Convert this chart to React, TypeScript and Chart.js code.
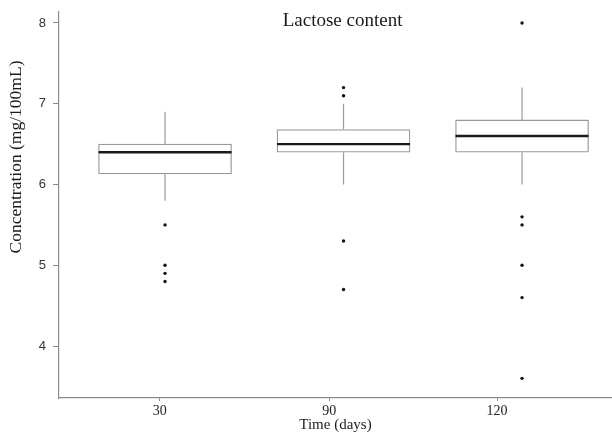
import React, { useEffect, useRef } from "react";
import { Chart, registerables } from "chart.js";

Chart.register(...registerables);

const CATEGORIES = ["30", "90", "120"];
const TICK_POSITIONS = [-0.03, 0.92, 1.86];
const Q1 = [6.13, 6.4, 6.4];
const MEDIAN = [6.4, 6.5, 6.6];
const Q3 = [6.5, 6.68, 6.8];
const WHISKER_LOW = [5.8, 6.0, 6.0];
const WHISKER_HIGH = [6.9, 7.0, 7.2];
const OUTLIERS_30 = [5.5, 5.0, 4.9, 4.8];
const OUTLIERS_90 = [7.2, 7.1, 5.3, 4.7];
const OUTLIERS_120 = [8.0, 5.6, 5.5, 5.0, 4.6, 3.6];
const OUTLIERS = [OUTLIERS_30, OUTLIERS_90, OUTLIERS_120];
const Y_TICKS = [4, 5, 6, 7, 8];

const SERIF = "'Liberation Serif', 'Times New Roman', serif";
const SANS = "'Liberation Sans', Arial, sans-serif";

const boxPlugin = {
  id: "boxParts",
  afterDatasetsDraw(chart: any) {
    const { ctx, scales } = chart;
    const x = scales.x;
    const y = scales.y;
    const meta = chart.getDatasetMeta(0);
    ctx.save();
    CATEGORIES.forEach((_, i) => {
      const cx = x.getPixelForValue(i);
      const bar = meta.data[i];
      const half = bar ? bar.width / 2 : 66;
      // whiskers
      ctx.strokeStyle = "#9a9a9a";
      ctx.lineWidth = 1.2;
      ctx.beginPath();
      ctx.moveTo(cx, y.getPixelForValue(Q3[i]));
      ctx.lineTo(cx, y.getPixelForValue(WHISKER_HIGH[i]));
      ctx.moveTo(cx, y.getPixelForValue(Q1[i]));
      ctx.lineTo(cx, y.getPixelForValue(WHISKER_LOW[i]));
      ctx.stroke();
      // median
      ctx.strokeStyle = "#1a1a1a";
      ctx.lineWidth = 2.4;
      ctx.beginPath();
      const my = y.getPixelForValue(MEDIAN[i]);
      ctx.moveTo(cx - half, my);
      ctx.lineTo(cx + half, my);
      ctx.stroke();
    });
    // title
    ctx.fillStyle = "#1a1a1a";
    ctx.font = `19px ${SERIF}`;
    ctx.textAlign = "center";
    ctx.textBaseline = "middle";
    ctx.fillText("Lactose content", x.getPixelForValue(1) - 1, chart.chartArea.top + 9);
    // y axis title
    ctx.save();
    ctx.font = `17.5px ${SERIF}`;
    ctx.translate(16, chart.chartArea.top + 145);
    ctx.rotate(-Math.PI / 2);
    ctx.fillText("Concentration (mg/100mL)", 0, 0);
    ctx.restore();
    ctx.restore();
  },
};

export default function App() {
  const ref = useRef<HTMLCanvasElement>(null);

  useEffect(() => {
    document.body.style.margin = "0";
    const canvas = ref.current;
    if (!canvas) return;
    const outlierPoints: { x: number; y: number }[] = [];
    OUTLIERS.forEach((arr, i) => arr.forEach((v) => outlierPoints.push({ x: i, y: v })));

    const chart = new Chart(canvas, {
      type: "bar",
      data: {
        datasets: [
          {
            type: "bar",
            data: CATEGORIES.map((_, i) => ({ x: i, y: [Q1[i], Q3[i]] })) as any,
            backgroundColor: "#ffffff",
            borderColor: "#9a9a9a",
            borderWidth: 1.3,
            borderSkipped: false,
            barThickness: 133,
          } as any,
          {
            type: "scatter",
            data: outlierPoints,
            backgroundColor: "#111111",
            borderColor: "#111111",
            pointRadius: 1.7,
            borderWidth: 0,
          } as any,
        ],
      },
      options: {
        responsive: false,
        animation: false,
        devicePixelRatio: 1,
        layout: { autoPadding: false, padding: { top: 12, right: 0, left: 0, bottom: 0 } },
        plugins: {
          legend: { display: false },
          tooltip: { enabled: false },
          title: { display: false },
        },
        scales: {
          x: {
            type: "linear",
            offset: false,
            min: -0.594,
            max: 2.504,
            afterBuildTicks: (scale: any) => {
              scale.ticks = TICK_POSITIONS.map((v) => ({ value: v }));
            },
            afterFit: (scale: any) => {
              scale.height = 40;
              scale.paddingLeft = 0;
              scale.paddingRight = 0;
            },
            ticks: {
              autoSkip: false,
              maxRotation: 0,
              padding: 2,
              color: "#222222",
              font: { family: SERIF, size: 14 },
              callback: (_v: any, idx: number) => CATEGORIES[idx],
            },
            grid: { drawOnChartArea: false, offset: false, tickLength: 3, color: "#8a8a8a" },
            border: { color: "#8a8a8a", width: 1.2 },
            title: {
              display: true,
              text: "Time (days)",
              color: "#1a1a1a",
              font: { family: SERIF, size: 15 },
              padding: { top: 0, bottom: 4 },
            },
          },
          y: {
            type: "linear",
            min: 3.357,
            max: 8.136,
            afterBuildTicks: (scale: any) => {
              scale.ticks = Y_TICKS.map((v) => ({ value: v }));
            },
            afterFit: (scale: any) => {
              scale.width = 59;
              scale.paddingTop = 0;
              scale.paddingBottom = 0;
            },
            ticks: {
              padding: 7,
              color: "#333333",
              font: { family: SANS, size: 13 },
            },
            grid: { drawOnChartArea: false, tickLength: 6, color: "#8a8a8a" },
            border: { color: "#8a8a8a", width: 1.2 },
            title: { display: false },
          },
        },
      },
      plugins: [boxPlugin],
    } as any);
    return () => chart.destroy();
  }, []);

  return (
    <div style={{ position: "relative", width: 612, height: 438 }}>
      <canvas ref={ref} width={612} height={438} style={{ display: "block" }} />
    </div>
  );
}
